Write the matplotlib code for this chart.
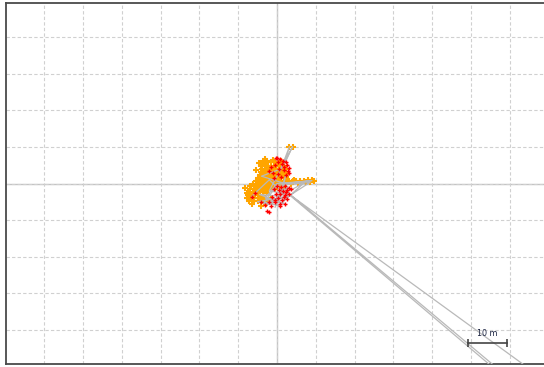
import numpy as np
import matplotlib
matplotlib.use("Agg")
import matplotlib.pyplot as plt

# ---- data (metres, relative to reference point) ----
orange_x = [
    -3.5, -2.6, -1.5, -0.6,
    -4.2, -3.0, -2.2, -0.8, 0.5,
    -3.8, -2.9, -2.0, -1.2, -0.3, 0.8,
    -4.0, -3.2, -2.5, -1.6, -0.7, 0.2, 1.0,
    -4.5, -3.6, -2.8, -2.0, -1.1, -0.2, 0.6, 1.5,
    -5.0, -4.1, -3.3, -2.4, -1.5, -0.6, 0.3, 1.1, 2.0,
    -5.5, -4.6, -3.7, -2.8, -1.9, -1.0, -0.1, 0.8, 1.7, 2.5,
    -6.2, -5.1, -4.2, -3.3, -2.4, -1.5, -0.6, 0.3, 1.2, 2.1,
    -7.0, -6.6, -5.6, -4.6, -3.7, -2.8, -1.9, -1.0, -0.1, 0.8, 1.8,
    -8.2, -7.0, -6.0, -5.0, -4.1, -3.2, -2.3, -1.4, -0.5,
    -7.8, -7.3, -6.3, -5.4, -4.4, -3.5, -2.6,
    -7.6, -6.7, -5.6, -4.6, -3.6,
    -7.8, -6.8, -5.9, -4.9, -4.0, -3.2, -1.5,
    -7.2, -6.0, -5.0, -3.6, -2.2,
    -6.4, -4.1, -2.8,
    -4.7, -5.4, -4.0, -1.0, -3.0,
    1.6, 2.3, 1.9, 2.7, 1.3, 2.2, 0.4, 1.0,
    2.5, 3.0, 4.0, 5.0, 6.0, 7.0, 8.0, 9.0, 9.5, 5.5, 7.5, 3.5, 8.6, 4.5,
    3.2, 4.0,
]
orange_y = [
    6.0, 6.1, 6.0, 5.8,
    4.8, 5.0, 4.8, 4.9, 4.8,
    4.0, 4.1, 4.0, 4.0, 4.1, 4.0,
    3.2, 3.3, 3.2, 3.2, 3.3, 3.2, 3.2,
    2.4, 2.4, 2.5, 2.4, 2.4, 2.5, 2.4, 2.4,
    1.6, 1.7, 1.6, 1.6, 1.7, 1.6, 1.6, 1.7, 1.6,
    0.8, 0.8, 0.9, 0.8, 0.8, 0.9, 0.8, 0.8, 0.8, 0.8,
    0.0, 0.0, 0.1, 0.0, 0.0, 0.1, 0.0, 0.0, 0.1, 0.0,
    -0.6, -0.8, -0.8, -0.9, -0.8, -0.8, -0.8, -0.9, -0.8, -0.8, -0.8,
    -1.2, -1.6, -1.6, -1.7, -1.6, -1.6, -1.7, -1.6, -1.6,
    -2.5, -2.4, -2.4, -2.5, -2.4, -2.4, -2.5,
    -3.2, -3.3, -3.2, -3.2, -3.3,
    -4.0, -4.0, -4.1, -4.0, -4.2, -4.0, -4.1,
    -4.8, -4.9, -4.8, -4.8, -4.9,
    -5.6, -6.2, -5.6,
    5.5, 3.8, 5.6, 6.4, 6.6,
    3.2, 4.0, 4.8, 2.6, 5.6, 1.8, 5.4, 6.3,
    1.2, 0.5, 0.6, 0.7, 0.8, 0.8, 0.9, 0.9, 0.8, 0.2, 0.3, 0.0, 0.5, 1.0,
    10.1, 10.1,
]

red_x = [
    0.0, 0.8, 1.5, 2.2, 0.3, -0.5, 1.2, 2.6, 3.2, 0.5, 1.8, -1.0, 0.2, 2.4, 3.1, 1.0, -2.0, -0.2,
    -1.6, 1.9, 2.8, -0.9,
    0.0, 1.0, 2.0, 3.0, -0.8, 0.4, 1.5, 2.6, 3.5, -0.3, 0.8, 2.0, 3.2, -1.2, 0.2, 1.4, 2.6,
    -0.6, 0.9, -1.5, 0.8, -2.0, 2.0, 1.7, -0.4, 2.3,
    -5.6, -6.4, -4.0, -3.2, -2.6, -2.0,
]
red_y = [
    7.0, 6.6, 6.2, 5.8, 6.0, 5.2, 5.3, 5.0, 4.2, 4.0, 3.6, 3.0, 2.5, 2.2, 2.8, 1.8, 3.3, 7.1,
    4.4, 4.6, 3.4, 1.5,
    -0.8, -1.0, -0.8, -1.2, -1.5, -1.8, -2.0, -1.7, -1.5, -2.8, -3.0, -3.2, -3.0, -3.8, -4.0, -4.4, -4.3,
    -5.0, -5.5, -6.3, -6.3, -5.0, -5.6, -3.6, -4.5, -2.4,
    -2.7, -3.8, -5.2, -6.0, -7.4, -7.7,
]

# gray track (NaN separates pieces)
track_x = [-6.5, -2.0, 1.0, 3.0, -1.0, 2.0, -3.0, 0.0, 6.0, 9.0, 2.0, -4.0, 1.0, 3.2, 2.0, 4.0, 0.5,
           -2.0, 3.0, -2.5, 1.5, 8.5, 0.0, -3.5, 2.5, -5.0, 0.5, 7.0, -1.0, -4.5, 1.0, 2.2, -0.5,
           np.nan,
           2.8, 67.3, np.nan,
           2.4, 66.3, np.nan,
           3.6, 77.0]
track_y = [-3.5, 1.0, -2.0, -1.0, -5.0, -5.5, -4.0, 0.0, 0.5, 0.8, 0.0, 2.0, 4.0, 10.1, 5.5, 10.1, 3.0,
           -2.0, -3.0, -5.8, -4.5, 0.3, -0.5, -5.5, -3.6, -5.0, -6.0, 0.2, -4.5, -3.0, -3.5, 2.0, -6.5,
           np.nan,
           -2.5, -60.0, np.nan,
           -2.4, -60.0, np.nan,
           -3.3, -60.0]

scale_x = [49.3, 59.3]
scale_y = [-43.8, -43.8]
scale_label = "10 m"

# ---- figure ----
fig = plt.figure(figsize=(5.44, 3.67), dpi=100)
ax = fig.add_axes([6 / 544, 3 / 367, 542 / 544, 361 / 367])
ax.set_xlim(-69.85, 69.85)
ax.set_ylim(-49.45, 49.45)

ax.set_xticks(np.arange(-60, 70, 10))
ax.set_yticks(np.arange(-40, 50, 10))
ax.tick_params(length=0, labelbottom=False, labelleft=False)
ax.grid(True, color="#d0d0d0", linestyle=(0, (3, 2)), linewidth=0.8)
ax.axhline(0, color="#c4c4c4", lw=1.0, zorder=1)
ax.axvline(0, color="#c4c4c4", lw=1.0, zorder=1)

for s in ax.spines.values():
    s.set_color("#4a4a4a")
    s.set_linewidth(1.3)

ax.plot(orange_x, orange_y, linestyle="none", marker="+", color="#ffa500",
        markersize=4, mew=1.5, zorder=2)
ax.plot(track_x, track_y, color="#b9b9b9", lw=0.9, zorder=3)
ax.plot(red_x, red_y, linestyle="none", marker="+", color="#ff0000",
        markersize=3.3, mew=1.0, zorder=4)

ax.plot(scale_x, scale_y, color="#444444", lw=1.2, marker="|", markersize=6, mew=1.2, zorder=5)
ax.text(sum(scale_x) / 2, scale_y[0] + 1.6, scale_label, ha="center", va="bottom",
        fontsize=5.8, color="#1a2240", zorder=5)

fig.savefig("out.png", dpi=100)
